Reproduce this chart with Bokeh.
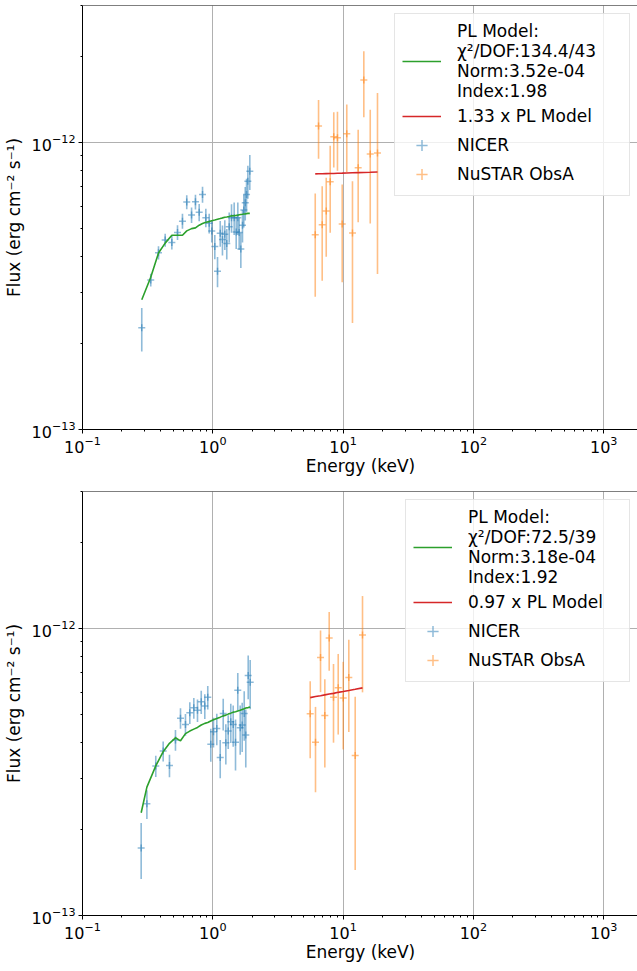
import numpy as np
from bokeh.plotting import figure
from bokeh.models import ColumnDataSource, FixedTicker, Legend, LegendItem, Span
from bokeh.layouts import column
from bokeh.embed import file_html
from bokeh.resources import INLINE

UNIT = 1e-13  # flux values below are in units of 1e-13 erg cm^-2 s^-1

# ---------------- top panel data ----------------
nicer_a_energy = [0.285, 0.334, 0.383, 0.431, 0.485, 0.536, 0.585, 0.631, 0.687, 0.736,
                  0.786, 0.834, 0.884, 0.938, 0.982, 1.036, 1.087, 1.140, 1.186, 1.236,
                  1.280, 1.336, 1.392, 1.459, 1.512, 1.556, 1.594, 1.641, 1.690, 1.730,
                  1.774, 1.815, 1.858, 1.923]
nicer_a_flux = [2.26, 3.32, 4.13, 4.57, 4.48, 4.86, 5.32, 6.20, 5.59, 6.21,
                5.71, 6.59, 5.47, 5.23, 4.92, 4.34, 3.56, 4.83, 4.59, 4.79,
                4.45, 5.09, 5.47, 5.47, 4.88, 5.47, 4.86, 4.25, 5.15, 5.82,
                6.17, 6.59, 7.33, 7.94]
nicer_a_err = [0.39, 0.17, 0.22, 0.24, 0.24, 0.29, 0.32, 0.35, 0.35, 0.37,
               0.39, 0.42, 0.40, 0.41, 0.44, 0.42, 0.43, 0.50, 0.55, 0.57,
               0.54, 0.61, 0.62, 0.71, 0.63, 0.71, 0.63, 0.60, 0.67, 0.76,
               0.82, 0.88, 0.97, 1.11]
nicer_a_model = [2.83, 3.39, 4.12, 4.46, 4.75, 4.75, 4.75, 4.92, 5.01, 5.04,
                 5.15, 5.22, 5.27, 5.30, 5.34, 5.37, 5.40, 5.43, 5.46, 5.49,
                 5.50, 5.52, 5.55, 5.56, 5.57, 5.58, 5.60, 5.61, 5.62, 5.63,
                 5.64, 5.65, 5.66, 5.66]
nustar_a_energy = [6.11, 6.48, 6.91, 7.42, 7.96, 8.48, 9.05, 9.84, 10.67, 11.80, 13.05, 14.42, 16.15, 18.36]
nustar_a_flux = [4.77, 11.42, 5.17, 5.77, 7.29, 10.46, 10.38, 5.20, 10.72, 4.84, 8.17, 16.52, 9.11, 9.18]
nustar_a_err = [1.87, 2.64, 1.87, 1.77, 2.44, 2.28, 2.41, 1.94, 2.83, 2.49, 2.90, 4.28, 3.89, 5.70]
nustar_a_model = [7.77, 7.78, 7.78, 7.79, 7.80, 7.80, 7.81, 7.82, 7.83, 7.84, 7.85, 7.86, 7.87, 7.89]
labels_a = ["PL Model:\nχ²/DOF:134.4/43\nNorm:3.52e-04\nIndex:1.98", "1.33 x PL Model"]

# ---------------- bottom panel data ----------------
nicer_b_energy = [0.282, 0.312, 0.365, 0.416, 0.465, 0.517, 0.565, 0.617, 0.666, 0.715,
                  0.763, 0.815, 0.868, 0.915, 0.965, 1.012, 1.073, 1.140, 1.202, 1.259,
                  1.313, 1.374, 1.434, 1.494, 1.555, 1.623, 1.681, 1.742, 1.791, 1.869, 1.936]
nicer_b_flux = [1.72, 2.45, 3.32, 3.74, 3.33, 4.09, 4.87, 4.63, 5.09, 5.29,
                5.19, 5.55, 5.37, 5.76, 3.95, 4.37, 4.48, 3.55, 5.05, 4.00,
                4.39, 4.73, 4.63, 4.01, 6.09, 4.51, 4.61, 5.05, 4.25, 6.86, 6.50]
nicer_b_err = [0.38, 0.28, 0.28, 0.30, 0.30, 0.34, 0.40, 0.40, 0.44, 0.44,
               0.47, 0.52, 0.53, 0.54, 0.52, 0.52, 0.56, 0.54, 0.64, 0.64,
               0.59, 0.74, 0.76, 0.81, 0.91, 0.88, 0.90, 0.99, 0.97, 1.19, 1.27]
nicer_b_model = [2.28, 2.80, 3.32, 3.72, 3.98, 4.16, 4.06, 4.30, 4.39, 4.46,
                 4.52, 4.61, 4.67, 4.70, 4.76, 4.81, 4.86, 4.91, 4.96, 4.99,
                 5.03, 5.07, 5.11, 5.13, 5.16, 5.19, 5.22, 5.25, 5.28, 5.30, 5.33]
nustar_b_energy = [5.59, 6.14, 6.71, 7.24, 7.82, 8.44, 9.17, 10.02, 11.06, 12.38, 14.09]
nustar_b_flux = [5.04, 4.01, 7.92, 4.97, 9.26, 5.76, 6.21, 5.72, 6.75, 3.61, 9.48]
nustar_b_err = [1.51, 1.32, 1.92, 1.69, 2.14, 1.76, 1.94, 1.93, 2.39, 2.17, 3.49]
nustar_b_model = [5.74, 5.79, 5.83, 5.87, 5.91, 5.94, 5.99, 6.03, 6.08, 6.14, 6.21]
labels_b = ["PL Model:\nχ²/DOF:72.5/39\nNorm:3.18e-04\nIndex:1.92", "0.97 x PL Model"]

# ---------------- axes ----------------
X_RANGE = (0.1, 1849.0)
Y_RANGE = (1e-13, 3e-12)
X_MAJOR = [0.1, 1.0, 10.0, 100.0, 1000.0]
Y_MAJOR = [1e-13, 1e-12]
X_LABEL = "Energy (keV)"
Y_LABEL = "Flux (erg cm⁻² s⁻¹)"

BLUE = "#1f77b4"
ORANGE = "#ff7f0e"
GREEN = "#2ca02c"
RED = "#d62728"
FONT = "DejaVu Sans"


def minor_ticks(majors, upto):
    out = []
    for m in majors:
        for k in range(2, 10):
            v = m * k
            if v < upto:
                out.append(v)
    return out


def panel(ne, nf, nerr, nmod, ue, uf, uerr, umod, labels, top_border, bottom_border, label_w):
    p = figure(x_axis_type="log", y_axis_type="log",
               x_range=X_RANGE, y_range=Y_RANGE,
               frame_width=556, frame_height=424,
               min_border_left=80, min_border_right=0,
               min_border_top=top_border, min_border_bottom=bottom_border,
               output_backend="svg", toolbar_location=None,
               outline_line_color=None, background_fill_color="white")

    nf_ = np.array(nf) * UNIT
    nerr_ = np.array(nerr) * UNIT
    uf_ = np.array(uf) * UNIT
    uerr_ = np.array(uerr) * UNIT

    nsrc = ColumnDataSource(dict(x=ne, y=nf_, lo=nf_ - nerr_, hi=nf_ + nerr_))
    usrc = ColumnDataSource(dict(x=ue, y=uf_, lo=uf_ - uerr_, hi=uf_ + uerr_))

    p.segment(x0="x", x1="x", y0="lo", y1="hi", source=nsrc,
              line_color=BLUE, line_alpha=0.5, line_width=1.6)
    nic = p.scatter("x", "y", source=nsrc, marker="cross", size=7,
                    line_color=BLUE, line_alpha=0.5, line_width=1.5)
    p.segment(x0="x", x1="x", y0="lo", y1="hi", source=usrc,
              line_color=ORANGE, line_alpha=0.5, line_width=1.6)
    nus = p.scatter("x", "y", source=usrc, marker="cross", size=7,
                    line_color=ORANGE, line_alpha=0.5, line_width=1.5)

    g = p.line(ne, np.array(nmod) * UNIT, line_color=GREEN, line_width=1.6)
    r = p.line(ue, np.array(umod) * UNIT, line_color=RED, line_width=1.6)

    # top spine
    p.add_layout(Span(location=Y_RANGE[1], dimension="width", line_color="black", line_width=1))

    for ax, majors, rng in ((p.xaxis, X_MAJOR, X_RANGE), (p.yaxis, Y_MAJOR, Y_RANGE)):
        ax.ticker = FixedTicker(ticks=majors, minor_ticks=minor_ticks(majors, rng[1] * 1.0001))
        ax.axis_line_color = "black"
        ax.major_tick_line_color = "black"
        ax.minor_tick_line_color = "black"
        ax.major_tick_out = 4
        ax.major_tick_in = 0
        ax.minor_tick_out = 2
        ax.minor_tick_in = 0
        ax.major_label_text_font = FONT
        ax.major_label_text_font_size = "16px"
        ax.major_label_text_color = "black"
        ax.axis_label_text_font = FONT
        ax.axis_label_text_font_size = "17px"
        ax.axis_label_text_font_style = "normal"
        ax.axis_label_text_color = "black"
    p.xaxis.axis_label = X_LABEL
    p.yaxis.axis_label = Y_LABEL
    p.xaxis.major_label_standoff = 2
    p.xaxis.axis_label_standoff = 0
    p.yaxis.major_label_standoff = 3
    p.yaxis.axis_label_standoff = 5

    p.xgrid.ticker = FixedTicker(ticks=X_MAJOR)
    p.ygrid.ticker = FixedTicker(ticks=Y_MAJOR)
    for gr in (p.xgrid, p.ygrid):
        gr.grid_line_color = "#b0b0b0"
        gr.grid_line_width = 1

    legend = Legend(items=[LegendItem(label=labels[0], renderers=[g]),
                           LegendItem(label=labels[1], renderers=[r]),
                           LegendItem(label="NICER", renderers=[nic]),
                           LegendItem(label="NuSTAR ObsA", renderers=[nus])],
                    location="top_right", margin=8, padding=7,
                    glyph_width=39, glyph_height=28, spacing=1, label_standoff=16,
                    label_width=label_w,
                    label_text_font=FONT, label_text_font_size="17px",
                    label_text_color="black",
                    border_line_color="#cccccc", border_line_width=1,
                    background_fill_color="white", background_fill_alpha=0.8)
    p.add_layout(legend)
    return p


p1 = panel(nicer_a_energy, nicer_a_flux, nicer_a_err, nicer_a_model,
           nustar_a_energy, nustar_a_flux, nustar_a_err, nustar_a_model, labels_a, 5, 61, 165)
p2 = panel(nicer_b_energy, nicer_b_flux, nicer_b_err, nicer_b_model,
           nustar_b_energy, nustar_b_flux, nustar_b_err, nustar_b_model, labels_b, 1, 40, 154)

layout = column(p1, p2, spacing=0)
open("out.html", "w").write(file_html(layout, INLINE))
